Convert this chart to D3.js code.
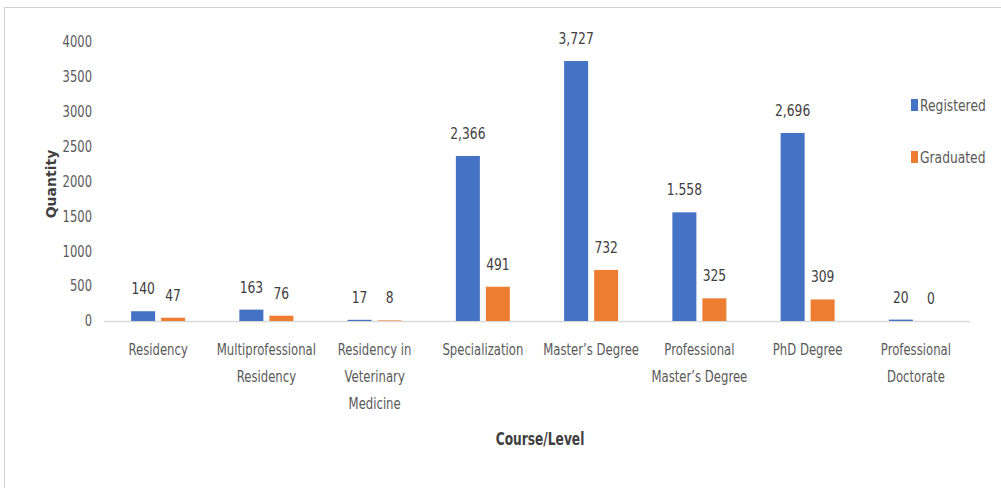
<!DOCTYPE html>
<html><head><meta charset="utf-8">
<script src="https://cdn.jsdelivr.net/npm/d3@7"></script>
<style>
body{margin:0;background:#fff;}
text{font-family:"DejaVu Sans",sans-serif;}
</style></head>
<body><svg id="c" width="1001" height="488"></svg>
<script>
const categories = [["Residency"],["Multiprofessional","Residency"],["Residency in","Veterinary","Medicine"],["Specialization"],["Master’s Degree"],["Professional","Master’s Degree"],["PhD Degree"],["Professional","Doctorate"]];
const registered = [140,163,17,2366,3727,1558,2696,20];
const graduated = [47,76,8,491,732,325,309,0];
const registeredLabels = ["140","163","17","2,366","3,727","1.558","2,696","20"];
const graduatedLabels = ["47","76","8","491","732","325","309","0"];
const yTicks = [0,500,1000,1500,2000,2500,3000,3500,4000];
const seriesNames = ["Registered","Graduated"];
const colors = ["#4472C4","#ED7D31"];

const SX = 0.77;
const svg = d3.select("#c");
svg.append("rect").attr("x",4.5).attr("y",7.5).attr("width",1100).attr("height",600)
  .attr("fill","none").attr("stroke","#d0d0d0");

const x0 = d3.scaleBand().domain(d3.range(categories.length)).range([104,970]).paddingInner(0).paddingOuter(0);
const x1 = d3.scaleBand().domain([0,1]).range([x0.bandwidth()/2-27, x0.bandwidth()/2+27]).paddingInner(0.2);
const y = d3.scaleLinear().domain([0,4000]).range([321,42]);

function narrow(sel, fx, fy){ return sel.attr("transform",(d,i)=>`translate(${fx(d,i)},${fy(d,i)}) scale(${SX},1)`); }

// y tick labels
narrow(svg.append("g").selectAll("text").data(yTicks).join("text"), ()=>92, d=>y(d))
  .attr("dy","0.35em").attr("text-anchor","end")
  .attr("font-size",15).attr("fill","#595959").text(d=>d);

// baseline
svg.append("line").attr("x1",104).attr("x2",970).attr("y1",y(0)+0.5).attr("y2",y(0)+0.5)
  .attr("stroke","#d9d9d9").attr("stroke-width",1.5);

const series = [registered, graduated];
const labels = [registeredLabels, graduatedLabels];
series.forEach((vals,s)=>{
  const g = svg.append("g");
  g.selectAll("rect").data(vals).join("rect")
    .attr("x",(d,i)=>x0(i)+x1(s)).attr("width",x1.bandwidth())
    .attr("y",d=>y(d)).attr("height",d=>y(0)-y(d)).attr("fill",colors[s]);
  narrow(g.selectAll("text").data(vals).join("text"),
      (d,i)=>x0(i)+x1(s)+x1.bandwidth()/2, d=>y(d)-17)
    .attr("text-anchor","middle").attr("font-size",16).attr("fill","#404040")
    .text((d,i)=>labels[s][i]);
});

// category labels
const cg = svg.append("g");
categories.forEach((lines,i)=>{
  const t = cg.append("text").attr("transform",`translate(${x0(i)+x0.bandwidth()/2},355) scale(0.73,1)`)
    .attr("text-anchor","middle").attr("font-size",16).attr("fill","#595959");
  lines.forEach((l,j)=>t.append("tspan").attr("x",0).attr("dy",j?27:0).text(l));
});

// axis titles
svg.append("text").attr("transform",`translate(540,445) scale(0.72,1)`).attr("text-anchor","middle")
  .attr("font-size",17).attr("font-weight","bold").attr("fill","#404040").text("Course/Level");
svg.append("text").attr("transform","translate(56,184) rotate(-90)").attr("text-anchor","middle")
  .attr("font-size",14).attr("font-weight","bold").attr("fill","#404040").text("Quantity");

// legend
const lg = svg.append("g");
seriesNames.forEach((n,i)=>{
  const yy = 105 + i*52;
  lg.append("rect").attr("x",911).attr("y",yy-6).attr("width",7).attr("height",12).attr("fill",colors[i]);
  lg.append("text").attr("transform",`translate(920,${yy}) scale(${SX},1)`).attr("dy","0.35em")
    .attr("font-size",16).attr("fill","#595959").text(n);
});
</script></body></html>
